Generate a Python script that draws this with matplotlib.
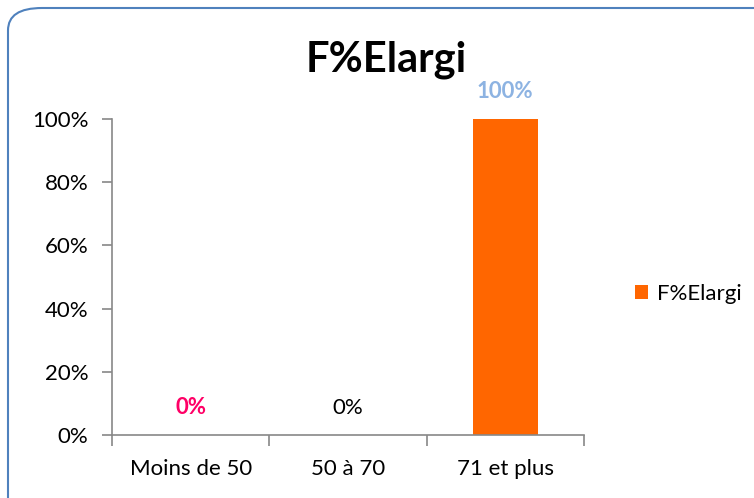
import matplotlib.pyplot as plt
from matplotlib.patches import FancyBboxPatch
from matplotlib.ticker import PercentFormatter

plt.rcParams['font.family'] = ['Lato', 'DejaVu Sans']

# data
categories = ['Moins de 50', '50 à 70', '71 et plus']
values = [0.0, 0.0, 1.0]
label_colors = ['#FF0066', '#000000', '#8DB3E2']
label_weights = ['bold', 'normal', 'bold']
series_name = 'F%Elargi'

fig = plt.figure(figsize=(7.54, 4.98), dpi=100)
ax = fig.add_axes([0.1485, 0.1265, 0.626, 0.6345])

x = range(len(categories))
bars = ax.bar(x, values, width=0.41, color='#FF6600', label=series_name)

for xi, v, c, w in zip(x, values, label_colors, label_weights):
    ax.text(xi, v + 0.055, f'{v:.0%}', ha='center', va='bottom',
            color=c, fontweight=w, fontsize=16)

ax.set_xlim(-0.5, 2.5)
ax.set_ylim(0, 1)
ax.set_yticks([0, 0.2, 0.4, 0.6, 0.8, 1.0])
ax.yaxis.set_major_formatter(PercentFormatter(1.0, decimals=0))
ax.set_xticks(list(x))
ax.set_xticklabels(categories)
ax.set_xticks([-0.5, 0.5, 1.5, 2.5], minor=True)
ax.tick_params(axis='x', which='major', length=0, pad=17, labelsize=16)
ax.tick_params(axis='x', which='minor', length=8, color='#888888', width=1.2)
ax.tick_params(axis='y', length=7, color='#888888', width=1.2, labelsize=16, pad=10)

for s in ['top', 'right']:
    ax.spines[s].set_visible(False)
for s in ['left', 'bottom']:
    ax.spines[s].set_color('#888888')
    ax.spines[s].set_linewidth(1.2)

fig.text(0.512, 0.88, 'F%Elargi', ha='center', va='center',
         fontsize=30, fontweight='bold')

fig.legend(handles=[bars], labels=[series_name], loc='center left',
           bbox_to_anchor=(0.815, 0.41), frameon=False, fontsize=16,
           handlelength=0.6, handleheight=0.6, handletextpad=0.4)

# rounded chart border
border = FancyBboxPatch((8 / 754, -0.1), 1.1, 1.1 - 8 / 498,
                        boxstyle='round,pad=0,rounding_size=0.045',
                        transform=fig.transFigure, fill=False,
                        edgecolor='#4F81BD', linewidth=1.5, clip_on=False)
fig.patches.append(border)

fig.savefig('out.png', dpi=100)
